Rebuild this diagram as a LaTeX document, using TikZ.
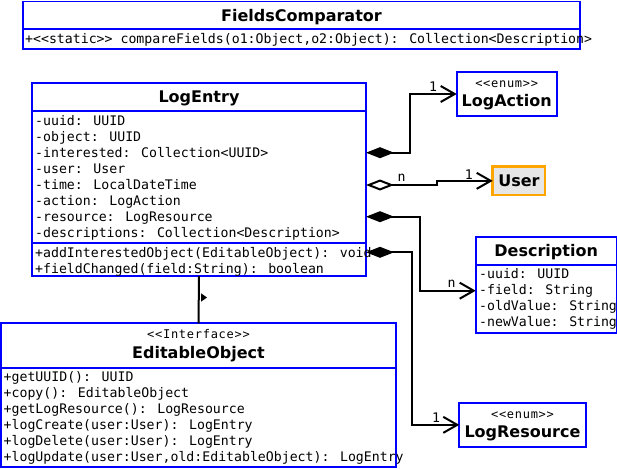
\documentclass[tikz,border=0pt]{standalone}
\usepackage{fontspec}
\setmainfont{DejaVu Sans}
\newfontfamily\monof{DejaVu Sans Mono}
\newfontfamily\stereof[LetterSpace=6]{DejaVu Sans Mono}
\usetikzlibrary{arrows.meta}
\definecolor{umlblue}{RGB}{0,0,255}
\definecolor{umlorange}{RGB}{255,165,0}
\definecolor{umlgrey}{RGB}{230,230,230}
\tikzset{
  classbox/.style={draw=umlblue, line width=1.8pt, fill=white, inner sep=0pt, outer sep=0pt, anchor=north west},
  divider/.style={draw=umlblue, line width=1.8pt},
  title/.style={font=\bfseries\fontsize{16}{19}\selectfont, inner sep=0pt, anchor=base},
  member/.style={font=\monof\fontsize{13.2}{16}\selectfont, inner sep=0pt, anchor=base west},
  stereo/.style={font=\stereof\fontsize{12}{14}\selectfont, inner sep=0pt, anchor=base},
  mult/.style={font=\monof\fontsize{13.2}{16}\selectfont, inner sep=0pt, anchor=center},
  link/.style={draw=black, line width=2pt},
  comp/.style={link, {Diamond[length=28pt,width=11pt]}-{Straight Barb[length=14pt,width=16pt]}},
  agg/.style={link, {Diamond[open,fill=white,length=28pt,width=11pt]}-{Straight Barb[length=14pt,width=16pt]}}
}
\begin{document}
\begin{tikzpicture}[x=1pt,y=-1pt]
\useasboundingbox (0,0) rectangle (617,468);

% FieldsComparator
\node[classbox, minimum width=557pt, minimum height=47.8pt] (fc) at (23,1.5) {};
\draw[divider] ([yshift=-27.8pt]fc.north west) -- ([yshift=-27.8pt]fc.north east);
\node[title] (fc-t) at (301.5,21.2) {FieldsComparator};
\node[member] (fc-m1) at (25,43.6) {+<<static>> compareFields(o1:Object,o2:Object): Collection<Description>};

% LogEntry
\node[classbox, minimum width=334pt, minimum height=193pt] (le) at (32,83) {};
\draw[divider] ([yshift=-28pt]le.north west) -- ([yshift=-28pt]le.north east);
\draw[divider] ([yshift=-160pt]le.north west) -- ([yshift=-160pt]le.north east);
\node[title] (le-t) at (199,102.8) {LogEntry};
\foreach \t [count=\i] in {{-uuid: UUID},{-object: UUID},{-interested: Collection<UUID>},{-user: User},{-time: LocalDateTime},{-action: LogAction},{-resource: LogResource},{-descriptions: Collection<Description>}}
  \node[member] (le-a\i) at (35,{125+16*(\i-1)}) {\t};
\foreach \t [count=\i] in {{+addInterestedObject(EditableObject): void},{+fieldChanged(field:String): boolean}}
  \node[member] (le-m\i) at (35,{257+16*(\i-1)}) {\t};

% LogAction
\node[classbox, minimum width=100pt, minimum height=44pt] (la) at (456.7,72) {};
\node[stereo] (la-s) at (506.7,87.3) {<<enum>>};
\node[title] (la-t) at (506.7,106.9) {LogAction};

% User
\node[classbox, draw=umlorange, fill=umlgrey, line width=2.5pt, minimum width=52.3pt, minimum height=28.3pt] (user) at (492.7,166.7) {};
\node[title] (user-t) at (518.9,186.7) {User};

% Description
\node[classbox, minimum width=141pt, minimum height=96pt] (desc) at (475.7,236.7) {};
\draw[divider] ([yshift=-28.3pt]desc.north west) -- ([yshift=-28.3pt]desc.north east);
\node[title] (desc-t) at (546.2,256.6) {Description};
\foreach \t [count=\i] in {{-uuid: UUID},{-field: String},{-oldValue: String},{-newValue: String}}
  \node[member] (desc-a\i) at (479,{278.3+16*(\i-1)}) {\t};

% LogResource
\node[classbox, minimum width=126.4pt, minimum height=44.3pt] (lr) at (459.3,402.7) {};
\node[stereo] (lr-s) at (522.5,418) {<<enum>>};
\node[title] (lr-t) at (522.5,437.5) {LogResource};

% EditableObject
\node[classbox, minimum width=395pt, minimum height=143.4pt] (eo) at (1,323.3) {};
\draw[divider] ([yshift=-45pt]eo.north west) -- ([yshift=-45pt]eo.north east);
\node[stereo] (eo-s) at (198.5,338.7) {<<Interface>>};
\node[title] (eo-t) at (198.5,358.5) {EditableObject};
\foreach \t [count=\i] in {{+getUUID(): UUID},{+copy(): EditableObject},{+getLogResource(): LogResource},{+logCreate(user:User): LogEntry},{+logDelete(user:User): LogEntry},{+logUpdate(user:User,old:EditableObject): LogEntry}}
  \node[member] (eo-m\i) at (3.5,{381.6+16*(\i-1)}) {\t};

% Connectors
\draw[comp] ([yshift=-69.7pt]le.north east) -- ++(44.3,0) |- (la.west);
\node[mult] (m-la) at (433,86.7) {1};

\draw[agg] ([yshift=-102pt]le.north east) -- ++(70.7,0) |- (user.west);
\node[mult] (m-un) at (401.7,178.3) {n};
\node[mult] (m-u1) at (468.8,174.5) {1};

\draw[comp] ([yshift=-133.7pt]le.north east) -- ++(53.7,0) |- ([yshift=-54pt]desc.north west);
\node[mult] (m-d) at (451.7,284.2) {n};

\draw[comp] ([yshift=-169.3pt]le.north east) -- ++(46,0) |- (lr.west);
\node[mult] (m-lr) at (436.2,417.8) {1};

\draw[link] (le.south) -- (eo.north);
\fill (201,293.3) -- (201,301.7) -- (207,297.5) -- cycle;
\end{tikzpicture}
\end{document}
